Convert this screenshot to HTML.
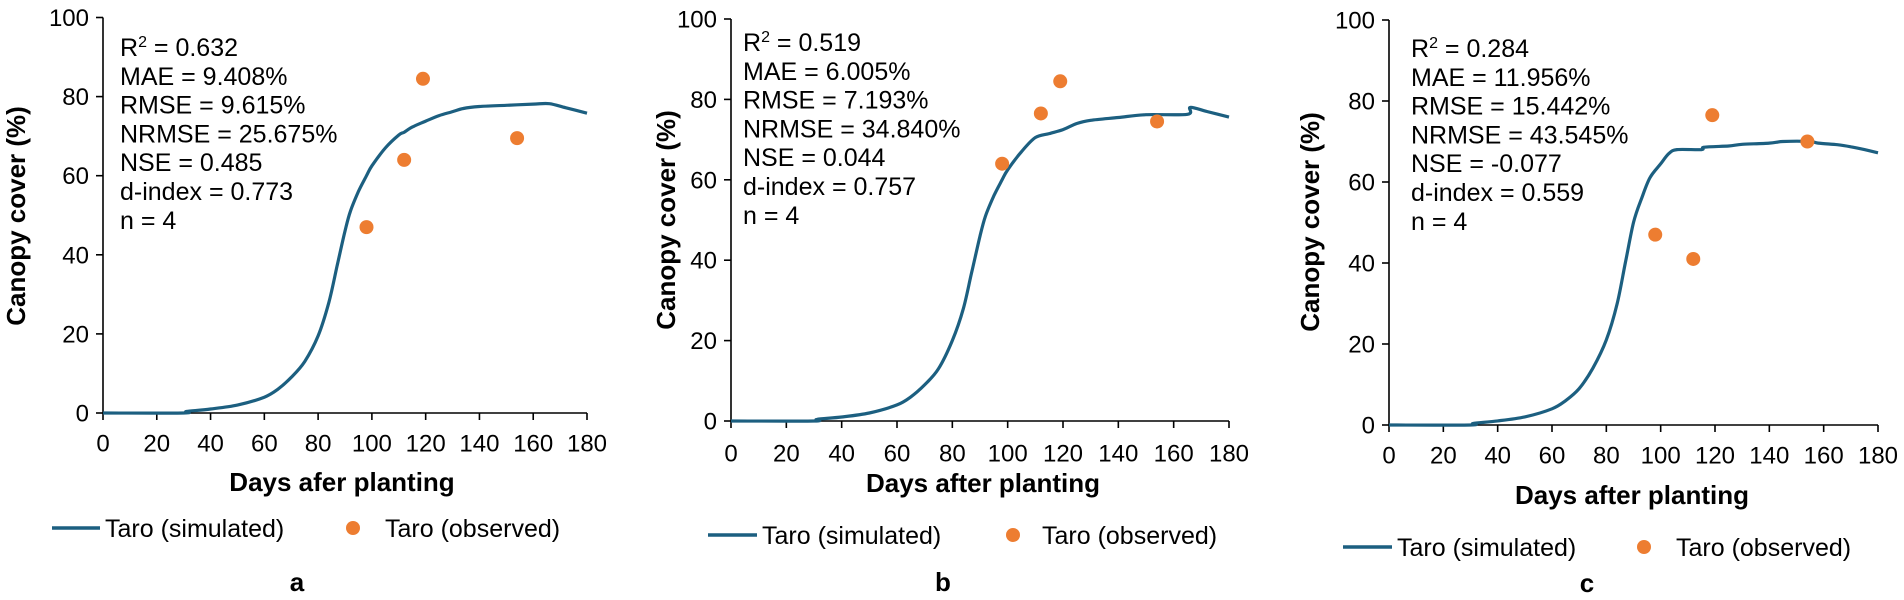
<!DOCTYPE html>
<html><head><meta charset="utf-8">
<style>
html,body{margin:0;padding:0;background:#fff;}
svg{display:block;font-family:"Liberation Sans",Arial,sans-serif;}
</style></head>
<body>
<svg id="fig" width="1904" height="600" viewBox="0 0 1904 600" xmlns="http://www.w3.org/2000/svg"></svg>
<script>
// ---- data ----
const xTicks = [0,20,40,60,80,100,120,140,160,180];
const yTicks = [0,20,40,60,80,100];
const simDaysA = [0,30,31,40,50,60,65,70,75,80,84,87,90,92,95,98,100,105,110,112,115,120,125,130,134,140,150,160,166,172,180];
const simValsA = [0,0,0.4,1,2,4,6,9,13,19.5,28,37,46,51,56,60,62.5,67,70.3,71,72.3,73.8,75.2,76.2,77,77.5,77.8,78.1,78.2,77.2,75.8];
const simDaysB = [0,30,31,40,50,60,65,70,75,80,84,87,90,92,95,98,100,105,110,115,120,125,130,140,150,165,166,172,180];
const simValsB = [0,0,0.4,1,2,4,6,9,13,20,28,37,46,51,56,60,62.5,67,70.5,71.5,72.5,74,74.8,75.5,76.2,76.3,78,77,75.6];
const simDaysC = [0,30,31,40,50,60,65,70,75,80,84,87,90,93,96,100,103,106,115,116,125,130,140,145,155,158,165,170,175,180];
const simValsC = [0,0,0.4,1,2,4,6,9,14,21,30,40,50,56,61,64.5,67,68,68,68.6,68.9,69.3,69.6,70,70,69.6,69.2,68.7,68,67.2];
const obsDays = [98,112,119,154];
const obsValsA = [47,64,84.5,69.5];
const obsValsB = [64,76.5,84.5,74.5];
const obsValsC = [47,41,76.5,70];
const statsA = ["= 0.632","MAE = 9.408%","RMSE = 9.615%","NRMSE = 25.675%","NSE = 0.485","d-index = 0.773","n = 4"];
const statsB = ["= 0.519","MAE = 6.005%","RMSE = 7.193%","NRMSE = 34.840%","NSE = 0.044","d-index = 0.757","n = 4"];
const statsC = ["= 0.284","MAE = 11.956%","RMSE = 15.442%","NRMSE = 43.545%","NSE = -0.077","d-index = 0.559","n = 4"];

const NS = "http://www.w3.org/2000/svg";
const svg = document.getElementById('fig');
function mk(tag, attrs, parent, text){
  const e = document.createElementNS(NS, tag);
  for (const k in attrs) e.setAttribute(k, attrs[k]);
  if (text !== undefined) e.textContent = text;
  (parent||svg).appendChild(e);
  return e;
}
function smoothPath(P){
  let d = 'M' + P[0][0].toFixed(1) + ',' + P[0][1].toFixed(1);
  for (let i = 0; i < P.length - 1; i++) {
    const p0 = P[Math.max(0,i-1)], p1 = P[i], p2 = P[i+1], p3 = P[Math.min(P.length-1,i+2)];
    const t = 0.16;
    const c1x = p1[0] + (p2[0]-p0[0])*t, c1y = p1[1] + (p2[1]-p0[1])*t;
    const c2x = p2[0] - (p3[0]-p1[0])*t, c2y = p2[1] - (p3[1]-p1[1])*t;
    d += ` C${c1x.toFixed(1)},${c1y.toFixed(1)} ${c2x.toFixed(1)},${c2y.toFixed(1)} ${p2[0].toFixed(1)},${p2[1].toFixed(1)}`;
  }
  return d;
}
const LINE = "#1c5f80", DOT = "#ed7d31";

const panels = [
 {id:'a', x0:103, x1:587, y0:413, y1:17.5, sx:120, sy:47, ytx:16, yty:216, tickY:443, titY:482, titX:342, legY:528, legL:[52,100], legT:105, dotX:353, obsT:385, lab:[297,582], title:"Days afer planting", sd:simDaysA, sv:simValsA, ov:obsValsA, st:statsA},
 {id:'b', x0:731, x1:1229, y0:421, y1:19, sx:743, sy:42, ytx:666, yty:220, tickY:453, titY:483, titX:983, legY:535, legL:[708,757], legT:762, dotX:1013, obsT:1042, lab:[943,582], title:"Days after planting", sd:simDaysB, sv:simValsB, ov:obsValsB, st:statsB},
 {id:'c', x0:1389, x1:1878, y0:425, y1:20, sx:1411, sy:48, ytx:1310, yty:222, tickY:455, titY:495, titX:1632, legY:547, legL:[1343,1392], legT:1397, dotX:1644, obsT:1676, lab:[1587,583], title:"Days after planting", sd:simDaysC, sv:simValsC, ov:obsValsC, st:statsC}
];

panels.forEach(p => {
  const g = mk('g', {});
  
  
  const X = d => p.x0 + (d/180)*(p.x1-p.x0);
  const Y = v => p.y0 - (v/100)*(p.y0-p.y1);
  const ya = mk('line', {x1:p.x0, y1:p.y1, x2:p.x0, y2:p.y0, stroke:'#000','stroke-width':1.6}, g);
  
  
  const xa = mk('line', {x1:p.x0, y1:p.y0, x2:p.x1, y2:p.y0, stroke:'#000','stroke-width':1.6}, g);
  
  
  yTicks.forEach(v => {
    mk('line', {x1:p.x0-7, y1:Y(v), x2:p.x0, y2:Y(v), stroke:'#000','stroke-width':1.6}, g);
    const t = mk('text', {x:p.x0-14, y:Y(v)+8.5, 'text-anchor':'end','font-size':24, fill:'#000'}, g, String(v));
    
    
  });
  xTicks.forEach(d => {
    mk('line', {x1:X(d), y1:p.y0, x2:X(d), y2:p.y0+7, stroke:'#000','stroke-width':1.6}, g);
    const t = mk('text', {x:X(d), y:p.tickY+8.5, 'text-anchor':'middle','font-size':24, fill:'#000'}, g, String(d));
    
    
  });
  const xt = mk('text', {x:p.titX, y:p.titY+9, 'text-anchor':'middle','font-size':26,'font-weight':'bold', fill:'#000'}, g, p.title);
  
  
  const yt = mk('text', {x:0, y:0, 'text-anchor':'middle','font-size':26,'font-weight':'bold', fill:'#000', transform:`translate(${p.ytx+9},${p.yty}) rotate(-90)`}, g, 'Canopy cover (%)');
  
  
  p.st.forEach((s, i) => {
    const t = mk('text', {x:p.sx, y:p.sy + i*28.8 + 9, 'font-size':25, fill:'#000'}, g);
    if (i === 0) {
      mk('tspan', {}, t, 'R');
      mk('tspan', {dy:-9, 'font-size':16}, t, '2');
      mk('tspan', {dy:9}, t, ' ' + s);
    } else t.textContent = s;
    
    
  });
  const P = p.sd.map((d, i) => [X(d), Y(p.sv[i])]);
  const pl = mk('path', {d:smoothPath(P), fill:'none', stroke:LINE, 'stroke-width':3.2, 'stroke-linejoin':'round'}, g);
  
  
  obsDays.forEach((d, i) => {
    const c = mk('circle', {cx:X(d), cy:Y(p.ov[i]), r:7, fill:DOT}, g);
    
    
  });
  const lg = mk('g', {}, g);
  
  
  mk('line', {x1:p.legL[0], y1:p.legY, x2:p.legL[1], y2:p.legY, stroke:LINE, 'stroke-width':3.5}, lg);
  mk('text', {x:p.legT, y:p.legY+9, 'font-size':25, fill:'#000'}, lg, 'Taro (simulated)');
  mk('circle', {cx:p.dotX, cy:p.legY, r:7, fill:DOT}, lg);
  mk('text', {x:p.obsT, y:p.legY+9, 'font-size':25, fill:'#000'}, lg, 'Taro (observed)');
  const lb = mk('text', {x:p.lab[0], y:p.lab[1]+9, 'text-anchor':'middle','font-size':26,'font-weight':'bold', fill:'#000'}, g, p.id);
  
  
});
</script>
</body></html>
